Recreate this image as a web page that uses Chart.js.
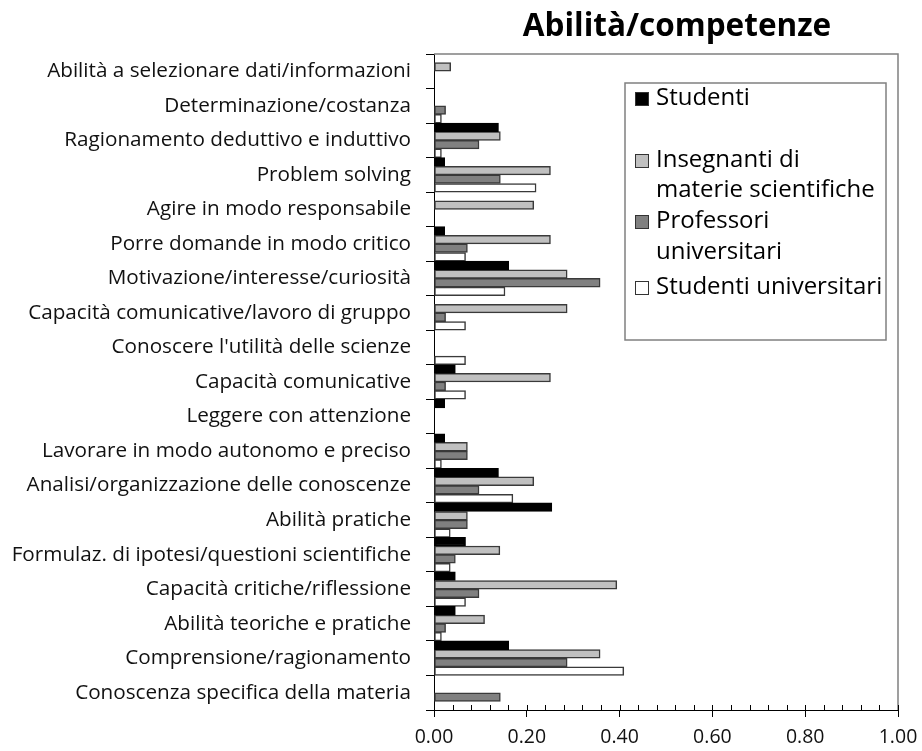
<!DOCTYPE html>
<html>
<head>
  <meta charset="UTF-8">
  <title>Abilità/competenze</title>
  <script src="https://cdn.jsdelivr.net/npm/chart.js"></script>
  <style>
    body { margin: 0; background: #fff; }
    #wrap { width: 922px; height: 751px; }
  </style>
</head>
<body>
  <div id="wrap"><canvas id="chart" width="922" height="751"></canvas></div>

  <script>
    const titleText = 'Abilità/competenze';
    const categories = [
      'Abilità a selezionare dati/informazioni',
      'Determinazione/costanza',
      'Ragionamento deduttivo e induttivo',
      'Problem solving',
      'Agire in modo responsabile',
      'Porre domande in modo critico',
      'Motivazione/interesse/curiosità',
      'Capacità comunicative/lavoro di gruppo',
      "Conoscere l'utilità delle scienze",
      'Capacità comunicative',
      'Leggere con attenzione',
      'Lavorare in modo autonomo e preciso',
      'Analisi/organizzazione delle conoscenze',
      'Abilità pratiche',
      'Formulaz. di ipotesi/questioni scientifiche',
      'Capacità critiche/riflessione',
      'Abilità teoriche e pratiche',
      'Comprensione/ragionamento',
      'Conoscenza specifica della materia'
    ];
    const seriesNames = ['Studenti', 'Insegnanti di materie scientifiche', 'Professori universitari', 'Studenti universitari'];
    // righe della legenda come appaiono (testo a capo)
    const legendLines = [
      ['Studenti'],
      ['Insegnanti di', 'materie scientifiche'],
      ['Professori', 'universitari'],
      ['Studenti universitari']
    ];
    const studenti     = [0, 0, 0.139, 0.023, 0, 0.023, 0.161, 0, 0, 0.046, 0.023, 0.023, 0.139, 0.254, 0.068, 0.046, 0.046, 0.161, 0];
    const insegnanti   = [0.036, 0, 0.143, 0.251, 0.215, 0.251, 0.287, 0.287, 0, 0.251, 0, 0.072, 0.215, 0.072, 0.142, 0.394, 0.109, 0.358, 0];
    const professori   = [0, 0.025, 0.097, 0.143, 0, 0.072, 0.358, 0.025, 0, 0.025, 0, 0.072, 0.097, 0.072, 0.046, 0.097, 0.025, 0.287, 0.143];
    const studentiUniv = [0, 0.016, 0.016, 0.220, 0, 0.068, 0.153, 0.068, 0.068, 0.068, 0, 0.016, 0.170, 0.035, 0.035, 0.068, 0.016, 0.409, 0];
    const xTicks = [0, 0.2, 0.4, 0.6, 0.8, 1.0];

    const fills = ['#000000', '#c0c0c0', '#808080', '#ffffff'];
    const FONT = '"Open Sans", Lato, sans-serif';

    const extras = {
      id: 'extras',
      afterDraw(chart) {
        const ctx = chart.ctx;
        const a = chart.chartArea;
        const xs = chart.scales.x;
        ctx.save();
        // cornice superiore e destra
        ctx.strokeStyle = '#808080';
        ctx.lineWidth = 1.5;
        ctx.beginPath();
        ctx.moveTo(a.left, a.top);
        ctx.lineTo(a.right, a.top);
        ctx.lineTo(a.right, a.bottom);
        ctx.stroke();

        // tacche secondarie ogni 0.04 (verso l'interno)
        ctx.strokeStyle = '#000';
        ctx.lineWidth = 1;
        ctx.beginPath();
        for (let i = 0; i <= 25; i++) {
          const px = Math.round(xs.getPixelForValue(i * 0.04)) + 0.5;
          ctx.moveTo(px, a.bottom);
          ctx.lineTo(px, a.bottom - 5);
        }
        ctx.stroke();

        // titolo
        ctx.fillStyle = '#000';
        ctx.font = 'bold 31.5px ' + FONT;
        ctx.textAlign = 'center';
        ctx.textBaseline = 'middle';
        ctx.fillText(titleText, (a.left + a.right) / 2 + 11, 27);

        // legenda
        const lx = 625, ly = 83, lw = 261, lh = 257;
        ctx.fillStyle = '#fff';
        ctx.fillRect(lx, ly, lw, lh);
        ctx.strokeStyle = '#808080';
        ctx.lineWidth = 1.5;
        ctx.strokeRect(lx, ly, lw, lh);
        const rowY = [[98], [160, 190], [221, 252], [287]];
        ctx.font = '24px ' + FONT;
        ctx.textAlign = 'left';
        chart.data.datasets.forEach((ds, i) => {
          const y0 = rowY[i][0];
          ctx.fillStyle = ds.backgroundColor;
          ctx.fillRect(635, y0 - 6, 14, 14);
          ctx.strokeStyle = '#333';
          ctx.lineWidth = 1;
          ctx.strokeRect(635.5, y0 - 5.5, 13, 13);
          ctx.fillStyle = '#000';
          legendLines[i].forEach((t, j) => ctx.fillText(t, 656, rowY[i][j]));
        });
        ctx.restore();
      }
    };

    new Chart(document.getElementById('chart'), {
      type: 'bar',
      data: {
        labels: categories,
        datasets: [studenti, insegnanti, professori, studentiUniv].map((d, i) => ({
          label: seriesNames[i],
          data: d,
          backgroundColor: fills[i],
          borderColor: i === 0 ? '#000' : '#3a3a3a',
          borderWidth: 1.5,
          borderSkipped: false,
          categoryPercentage: 1,
          barPercentage: 1
        }))
      },
      options: {
        indexAxis: 'y',
        responsive: false,
        animation: false,
        layout: { padding: { top: 54, right: 24, left: 0, bottom: 0 } },
        plugins: {
          legend: { display: false },
          title: { display: false },
          tooltip: { enabled: false }
        },
        scales: {
          y: {
            afterFit(scale) { scale.width = 434; },
            grid: { display: true, drawOnChartArea: false, tickLength: 8, color: '#000', offset: true },
            border: { display: true, color: '#000', width: 1 },
            ticks: { font: { family: FONT, size: 20.7 }, color: '#111', padding: 15, autoSkip: false }
          },
          x: {
            min: 0,
            max: 1,
            afterFit(scale) {
              scale.height = 41;
              scale.paddingLeft = 0;
              scale.paddingRight = 0;
            },
            afterBuildTicks(scale) { scale.ticks = xTicks.map(v => ({ value: v })); },
            grid: { display: true, drawOnChartArea: false, tickLength: 7, color: '#000' },
            border: { display: true, color: '#000', width: 1 },
            ticks: {
              font: { family: FONT, size: 19.5 },
              color: '#111',
              padding: 9,
              maxRotation: 0,
              callback: v => Number(v).toFixed(2)
            }
          }
        }
      },
      plugins: [extras]
    });
  </script>
</body>
</html>
